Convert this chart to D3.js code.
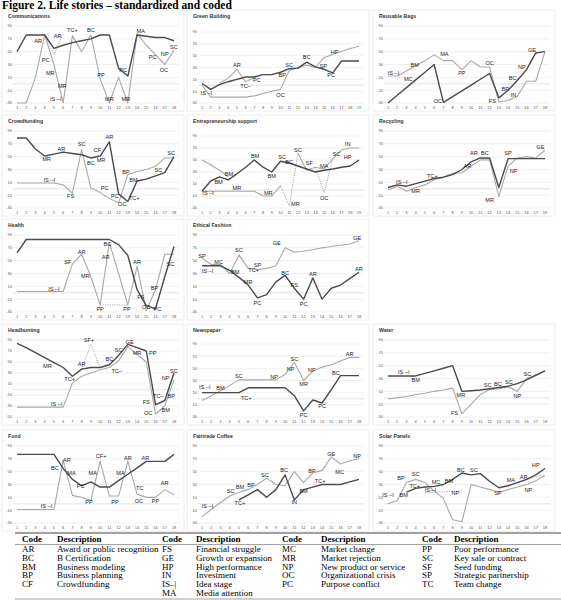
<!DOCTYPE html>
<html>
<head>
<meta charset="utf-8">
<script src="https://cdn.jsdelivr.net/npm/d3@7"></script>
<style>
  body { margin: 0; background: #fff; }
  svg { display: block; }
</style>
</head>
<body>
<script>
// ---- data: one dark and one light life-story line per venture, values on the -30..90 scale ----
var commDark = [50,76,76,76,55,60,64,67,70,76,76,24,12,76,74,72,72,67];
var commLight = [-30,-30,10,76,30,-30,75,50,76,8,-30,10,-30,78,60,45,30,52];
var commDots = [[[4,76],[5,45],[6,78]]];
var commLabels = [[3.3,66,"AR"],[5.4,75,"AR"],[7,83,"TC+"],[9,83,"BC"],[4.1,37,"PC"],[4.6,16,"MR"],[5.9,-3,"MR"],[5.2,-24,"IS \u2013I"],[10.1,14,"PP"],[12.5,22,"PC"],[11,-24,"MR"],[12.8,-24,"MR"],[14.4,82,"MA"],[15.7,42,"PC"],[17,47,"NP"],[18,57,"SC"],[16.9,22,"OC"]];

var gbDark = [3,-7,1,6,10,14,14,18,18,22,28,29,39,31,27,21,41,41,41];
var gbLight = [0,-20,-20,-20,-20,-20,-18,-14,-10,-7,25,30,34,30,47,52,57,62,66];
var gbBranch = [[[3,3],[4,12],[5,27],[6,6],[7,13]]];
var gbLabels = [[1.5,-13,"IS \u2013I"],[5,35,"AR"],[6,-2,"TC\u2013"],[7.3,9,"PC"],[10.2,18,"BP"],[11,35,"SC"],[10,-16,"OC"],[13,47,"BC"],[14.9,32,"SP"],[15.8,17,"PC"],[16.2,56,"HP"]];

var rbDark = [-30,-18,-6,6,18,30,-29,-20,-11,-2,7,16,-22,-10,5,22,48,50];
var rbLight = [12,12,20,28,36,45,36,36,22,36,26,26,-28,-26,-20,4,4,50];
var rbLabels = [[1.6,17,"IS \u2013I"],[3.2,7,"MC"],[3.9,29,"BM"],[7.1,47,"MA"],[9,16,"PP"],[12,33,"OC"],[6.4,-27,"OC"],[12.3,-27,"FS"],[13.7,-8,"BP"],[14.6,-17,"IN"],[14.5,9,"BC"],[15.5,26,"NP"],[16.6,52,"GE"]];

var cfDark = [79,79,62,51,54,57,55,53,48,51,73,-8,-20,12,15,20,25,50];
var cfLight = [9,9,9,9,9,6,-7,61,1,-6,-15,-22,22,27,30,35,48,48];
var cfLabels = [[4.2,46,"MR"],[5.8,62,"AR"],[8,69,"SC"],[9,40,"BC"],[9.7,61,"CF"],[10.1,45,"MR"],[11,80,"AR"],[4.5,14,"IS \u2013I"],[6.8,-12,"FS"],[10.5,1,"PC"],[11.6,-11,"PC"],[12.4,-24,"OC"],[13.7,-15,"TC+"],[13.6,13,"BM"],[12.8,26,"BP"],[16.3,29,"SC"],[17.7,56,"SC"]];

var esDark = [-2,15,22,17,27,38,50,38,30,48,45,40,35,30,33,35,38,40,50];
var esLight = [-2,-2,-2,-2,-2,-2,-2,-10,-10,7,null,61,33,38,35,52,67,70,70];
var esBranch = [[[1,50],[2,42],[3,33],[4,22]]];
var esDots = [[[10,7],[11,-27],[12,61]],[[14,38],[15,-4],[16,52]]];
var esLabels = [[1.7,-5,"IS \u2013I"],[2.9,14,"BM"],[4.1,26,"BM"],[5,4,"MR"],[7.1,56,"BM"],[8.6,-5,"MR"],[9,23,"BM"],[10.2,55,"SC"],[11,47,"BC"],[11.7,-24,"MR"],[12,67,"SC"],[13.3,45,"SF"],[15,40,"MA"],[15,-13,"OC"],[16.4,60,"SC"],[17.7,76,"IN"],[17.7,55,"HP"]];

var recDark = [2,6,4,8,12,16,18,22,30,42,48,48,2,47,47,47,47,47];
var recLight = [-2,4,-4,2,6,14,18,24,25,35,45,45,-12,35,48,50,48,60];
var recLabels = [[2.5,11,"IS \u2013I"],[4,-3,"MR"],[5.8,20,"TC+"],[9.6,36,"AR"],[10.3,55,"AR"],[11.5,56,"BC"],[12,-17,"MR"],[14,55,"SP"],[14.6,28,"NP"],[17.5,65,"GE"]];

var hDark = [62,83,83,83,83,83,83,83,83,83,83,75,58,5,-20,-25,25,72];
var hLight = [2,2,2,2,2,2,45,60,25,-19,78,30,-19,41,-28,5,60,60];
var hDots = [[[10,-19],[13,-19]]];
var hLabels = [[5,6,"IS \u2013I"],[6.5,48,"SF"],[8,64,"AR"],[8.4,26,"MR"],[10,-25,"PP"],[10.6,56,"AR"],[10.8,76,"BC"],[12.9,-25,"PP"],[14,48,"AR"],[14.4,-6,"FS"],[15,-22,"OC"],[16.2,-26,"PC"],[15.9,8,"BP"],[17.6,45,"SC"]];

var efDark = [42,42,42,35,24,12,-8,-3,17,27,7,-10,23,-10,7,12,22,32];
var efLight = [54,44,44,30,59,38,36,38,42,70,63,65,67,70,72,74,76,81];
var efLabels = [[1,58,"SP"],[2.8,48,"MC"],[1.6,34,"IS \u2013I"],[4.6,33,"BM"],[5,66,"SC"],[7,44,"SP"],[6.6,36,"TC+"],[6,16,"MR"],[7,-16,"PC"],[9.1,77,"GE"],[10,31,"BC"],[11,12,"FS"],[12,-17,"PC"],[13,29,"AR"],[17.8,86,"GE"],[18,37,"AR"]];

var hhDark = [84,76,67,58,49,40,24,37,40,40,45,62,82,76,70,-28,-20,30];
var hhLight = [-32,-32,-32,-32,-32,-32,12,24,30,36,40,52,78,64,50,-45,-30,18];
var hhDots = [[[8,37],[9,82],[10,40]]];
var hhLabels = [[4.3,42,"MR"],[6.7,19,"TC+"],[8,46,"AR"],[8.8,90,"SF+"],[11,55,"BC"],[12,72,"SC"],[13.2,87,"GE"],[14,66,"MR"],[15.7,66,"PP"],[5.3,-26,"IS \u2013I"],[11.8,33,"TC\u2013"],[15,-23,"FS"],[16.3,-12,"TC\u2013"],[17.7,-12,"BP"],[17.1,-38,"BM"],[15.2,-42,"OC"],[17.1,21,"NP"],[18,34,"SC"]];

var npDark = [10,10,10,10,10,18,18,18,18,18,5,-20,-2,-7,15,38,38,38];
var npLight = [-3,5,13,22,31,31,31,31,31,40,60,30,45,52,56,62,68,68];
var npLabels = [[1.3,19,"IS \u2013I"],[3,17,"BM"],[5,37,"SC"],[5.8,2,"TC+"],[8.8,35,"NP"],[10.6,49,"NP"],[11,66,"SC"],[12,25,"MR"],[12.9,47,"NP"],[12,-26,"PC"],[14,-12,"PC"],[15.5,43,"BC"],[17,73,"AR"]];

var wDark = [34,34,34,34,38,42,46,50,10,11,12,14,16,18,22,28,35,42];
var wLight = [-2,0,2,5,7,10,12,15,-25,-10,5,13,14,17,10,30,36,42];
var wLabels = [[2.7,40,"IS \u2013I"],[4,27,"BM"],[8.9,4,"MR"],[8.2,-24,"FS"],[11.8,20,"SC"],[12.9,22,"BC"],[14.1,24,"SC"],[15,3,"NP"],[16.1,37,"SC"]];

var fDark = [77,77,77,77,77,55,38,28,34,26,26,36,46,56,66,66,66,77];
var fLight = [-9,-9,-9,-9,-9,68,13,10,5,66,12,12,66,15,10,10,22,14];
var fLabels = [[4.2,-4,"IS \u2013I"],[5.1,55,"BC"],[6.4,68,"AR"],[6.9,48,"MA"],[7.9,28,"PC"],[8.8,3,"PP"],[9.2,48,"MA"],[10.1,75,"CF+"],[11.6,3,"PP"],[12.2,48,"MA"],[13,72,"AR"],[14.9,72,"AR"],[14.3,24,"TC"],[14.2,4,"OC"],[16,4,"PP"],[17,32,"AR"]];

var fcDark = [null,null,null,null,6,14,22,10,22,45,6,22,26,30,30,30,34,38];
var fcLight = [-20,-9,2,12,18,22,30,40,30,28,50,33,48,52,73,62,67,70];
var fcLabels = [[1.6,-4,"IS \u2013I"],[4.1,20,"SC"],[5.1,26,"BM"],[5.1,1,"TC+"],[6.3,30,"BP"],[7.8,45,"SC"],[9.9,52,"BC"],[11,3,"IN"],[12,20,"BM"],[12.9,51,"BP"],[13.8,36,"TC+"],[15,78,"GE"],[15.9,50,"MC"],[17.8,75,"NP"]];

var spDark = [null,null,18,24,26,27,30,38,48,45,47,35,25,28,33,38,45,55];
var spLight = [0,5,33,38,33,20,8,-25,-28,30,26,22,18,22,26,30,36,44];
var spDots = [[[5,17],[9,20]],[[15,33],[18,46]]];
var spLabels = [[1,14,"IS \u2013I"],[2.7,13,"BM"],[2.4,40,"BP"],[4,46,"SC"],[3.9,27,"TC+"],[6.2,34,"MC"],[5.6,22,"IS \u2013I"],[7.6,36,"BM"],[8.3,16,"NP"],[8.9,53,"BC"],[10.3,53,"SC"],[12.9,17,"SP"],[14.3,37,"MA"],[15.7,42,"AR"],[16.2,22,"NP"],[17,60,"HP"]];

// code table
var codes1 = ["AR","BC","BM","BP","CF"];
var descs1 = ["Award or public recognition","B Certification","Business modeling","Business planning","Crowdfunding"];
var codes2 = ["FS","GE","HP","IN","IS\u2013|","MA"];
var descs2 = ["Financial struggle","Growth or expansion","High performance","Investment","Idea stage","Media attention"];
var codes3 = ["MC","MR","NP","OC","PC"];
var descs3 = ["Market change","Market rejection","New product or service","Organizational crisis","Purpose conflict"];
var codes4 = ["PP","SC","SF","SP","TC"];
var descs4 = ["Poor performance","Key sale or contract","Seed funding","Strategic partnership","Team change"];

var panels = [
  {name:"Communications", col:0, row:0, n:18, yMin:-30, dark:commDark, light:commLight, dots:commDots, labels:commLabels},
  {name:"Green Building", col:1, row:0, n:19, yMin:-30, dark:gbDark, light:gbLight, branch:gbBranch, labels:gbLabels, pad:21},
  {name:"Reusable Bags", col:2, row:0, n:18, yMin:-30, dark:rbDark, light:rbLight, labels:rbLabels},
  {name:"Crowdfunding", col:0, row:1, n:18, yMin:-30, dark:cfDark, light:cfLight, labels:cfLabels},
  {name:"Entrepreneurship support", col:1, row:1, n:19, yMin:-30, dark:esDark, light:esLight, branch:esBranch, dots:esDots, labels:esLabels, pad:20},
  {name:"Recycling", col:2, row:1, n:18, yMin:-30, dark:recDark, light:recLight, labels:recLabels},
  {name:"Health", col:0, row:2, n:18, yMin:-30, dark:hDark, light:hLight, dots:hDots, labels:hLabels},
  {name:"Ethical Fashion", col:1, row:2, n:18, yMin:-30, dark:efDark, light:efLight, labels:efLabels},
  {name:"Headhunting", col:0, row:3, n:18, yMin:-50, dark:hhDark, light:hhLight, dots:hhDots, labels:hhLabels},
  {name:"Newspaper", col:1, row:3, n:18, yMin:-30, dark:npDark, light:npLight, labels:npLabels, pad:19},
  {name:"Water", col:2, row:3, n:18, yMin:-30, dark:wDark, light:wLight, labels:wLabels},
  {name:"Food", col:0, row:4, n:18, yMin:-30, dark:fDark, light:fLight, labels:fLabels},
  {name:"Fairtrade Coffee", col:1, row:4, n:18, yMin:-30, dark:fcDark, light:fcLight, labels:fcLabels},
  {name:"Solar Panels", col:2, row:4, n:18, yMin:-30, dark:spDark, light:spLight, dots:spDots, labels:spLabels}
];

var colX = [2, 187, 373];
var rowY = [11, 116, 220, 325, 431];

var svg = d3.select("body").append("svg").attr("width", 561).attr("height", 600);

svg.append("text")
  .attr("x", 2).attr("y", 9)
  .attr("font-family", "Liberation Serif, Times New Roman, serif")
  .attr("font-weight", "bold").attr("font-size", 11.5)
  .text("Figure 2. Life stories \u2013 standardized and coded");

var DARK = "#4a4a4a", LIGHT = "#a8a8a8";

panels.forEach(function (p) {
  var x0 = colX[p.col], y0 = rowY[p.row];
  var g = svg.append("g");

  g.append("rect").attr("x", x0).attr("y", y0 - 1).attr("width", 182).attr("height", 101)
    .attr("fill", "none").attr("stroke", "#e0e0e0").attr("stroke-width", 0.6);

  g.append("text").attr("x", x0 + 6).attr("y", y0 + 7)
    .attr("font-family", "Liberation Sans, Arial, sans-serif").attr("font-size", 5.2)
    .attr("font-weight", "bold").attr("fill", "#333").text(p.name);

  var x = d3.scaleLinear().domain([1, p.n]).range([x0 + 15, x0 + 172]);
  var y = d3.scaleLinear().domain([p.yMin, 90]).range([y0 + 92, y0 + (p.pad || 15)]);
  var ticks = d3.range(p.yMin, 91, 20);

  // gridlines
  g.selectAll(".grid").data(ticks).enter().append("line")
    .attr("x1", x0 + 11).attr("x2", x0 + 177)
    .attr("y1", function (d) { return y(d); }).attr("y2", function (d) { return y(d); })
    .attr("stroke", "#e3e3e3").attr("stroke-width", 0.5);
  g.append("line").attr("x1", x0 + 11).attr("x2", x0 + 177)
    .attr("y1", y(0)).attr("y2", y(0)).attr("stroke", "#ececec").attr("stroke-width", 1.6);

  // y tick labels
  g.selectAll(".yt").data(ticks).enter().append("text")
    .attr("x", x0 + 10).attr("y", function (d) { return y(d) + 1.4; })
    .attr("text-anchor", "end").attr("font-family", "Liberation Sans, Arial, sans-serif")
    .attr("font-size", 4).attr("fill", "#555").text(function (d) { return d; });

  // x tick labels
  g.selectAll(".xt").data(d3.range(1, p.n + 1)).enter().append("text")
    .attr("x", function (d) { return x(d); }).attr("y", y0 + 97.5)
    .attr("text-anchor", "middle").attr("font-family", "Liberation Sans, Arial, sans-serif")
    .attr("font-size", 4).attr("fill", "#555").text(function (d) { return d; });

  var line = d3.line()
    .defined(function (d) { return d[1] != null; })
    .x(function (d) { return x(d[0]); })
    .y(function (d) { return y(d[1]); });
  var toPts = function (arr) { return arr.map(function (v, i) { return [i + 1, v]; }); };

  (p.dots || []).forEach(function (seg) {
    g.append("path").attr("d", line(seg)).attr("fill", "none")
      .attr("stroke", LIGHT).attr("stroke-width", 1).attr("stroke-dasharray", "1.2,1.2");
  });
  (p.branch || []).forEach(function (seg) {
    g.append("path").attr("d", line(seg)).attr("fill", "none")
      .attr("stroke", LIGHT).attr("stroke-width", 1.1);
  });
  g.append("path").attr("d", line(toPts(p.light))).attr("fill", "none")
    .attr("stroke", LIGHT).attr("stroke-width", 1.1).attr("stroke-linejoin", "round");
  g.append("path").attr("d", line(toPts(p.dark))).attr("fill", "none")
    .attr("stroke", DARK).attr("stroke-width", 1.4).attr("stroke-linejoin", "round");

  g.selectAll(".lab").data(p.labels).enter().append("text")
    .attr("x", function (d) { return x(d[0]); })
    .attr("y", function (d) { return y(d[1]) + 2; })
    .attr("text-anchor", "middle").attr("font-family", "Liberation Sans, Arial, sans-serif")
    .attr("font-size", 5.6).attr("fill", "#222").text(function (d) { return d[2]; });
});

// ---- table of codes ----
var t = svg.append("g").attr("font-family", "Liberation Serif, Times New Roman, serif").attr("font-size", 9);
t.append("line").attr("x1", 15).attr("x2", 561).attr("y1", 533).attr("y2", 533).attr("stroke", "#444").attr("stroke-width", 1.2);
t.append("line").attr("x1", 15).attr("x2", 561).attr("y1", 544.5).attr("y2", 544.5).attr("stroke", "#666").attr("stroke-width", 0.6);
t.append("line").attr("x1", 15).attr("x2", 561).attr("y1", 599).attr("y2", 599).attr("stroke", "#888").attr("stroke-width", 0.8);

var groups = [[codes1, descs1, 22, 57], [codes2, descs2, 162, 196], [codes3, descs3, 282, 321], [codes4, descs4, 422, 454]];
groups.forEach(function (gr) {
  t.append("text").attr("x", gr[2]).attr("y", 541.5).attr("font-weight", "bold").text("Code");
  t.append("text").attr("x", gr[3]).attr("y", 541.5).attr("font-weight", "bold").text("Description");
  gr[0].forEach(function (c, i) {
    t.append("text").attr("x", gr[2]).attr("y", 552 + i * 8.8).text(c);
    t.append("text").attr("x", gr[3]).attr("y", 552 + i * 8.8).text(gr[1][i]);
  });
});
</script>
</body>
</html>
